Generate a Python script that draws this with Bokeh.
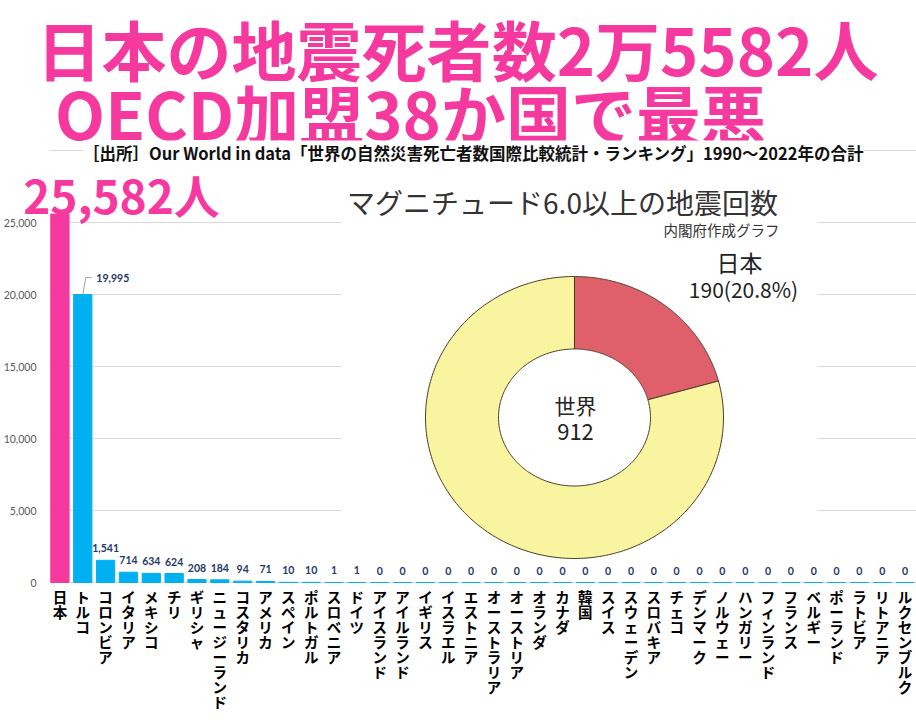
import numpy as np
from bokeh.plotting import figure
from bokeh.models import Range1d, Label, ColumnDataSource
from bokeh.core.properties import value
from bokeh.embed import file_html
from bokeh.resources import INLINE

# ---------------- data ----------------
countries = ["日本", "トルコ", "コロンビア", "イタリア", "メキシコ", "チリ", "ギリシャ",
             "ニュージーランド", "コスタリカ", "アメリカ", "スペイン", "ポルトガル", "スロベニア",
             "ドイツ", "アイスランド", "アイルランド", "イギリス", "イスラエル", "エストニア",
             "オーストラリア", "オーストリア", "オランダ", "カナダ", "韓国", "スイス", "スウェーデン",
             "スロバキア", "チェコ", "デンマーク", "ノルウェー", "ハンガリー", "フィンランド",
             "フランス", "ベルギー", "ポーランド", "ラトビア", "リトアニア", "ルクセンブルク"]
deaths = [25582, 19995, 1541, 714, 634, 624, 208, 184, 94, 71, 10, 10, 1,
          1, 0, 0, 0, 0, 0, 0, 0, 0, 0, 0, 0, 0,
          0, 0, 0, 0, 0, 0, 0, 0, 0, 0, 0, 0]
y_ticks = [0, 5000, 10000, 15000, 20000, 25000]
grid_ticks = [0, 5000, 10000, 15000, 20000, 25000, 30000]
quake_regions = ["日本", "世界"]
quake_counts = [190, 912]
japan_share_label = "190(20.8%)"
world_label = "912"

title_line1 = "日本の地震死者数2万5582人"
title_line2 = "OECD加盟38か国で最悪"
source_note = "［出所］Our World in data「世界の自然災害死亡者数国際比較統計・ランキング」1990～2022年の合計"
japan_total_label = "25,582人"
donut_title = "マグニチュード6.0以上の地震回数"
donut_credit = "内閣府作成グラフ"

# ---------------- layout helpers (image px -> data) ----------------
W, H = 916, 720
MARGIN = 0               # Bokeh's page template has no body margin
PLOT_L_IMG = 48          # left edge of the bar area, image px
PLOT_R_IMG = MARGIN + W  # right edge of the bar area, image px
N = len(countries)
cat_px = (PLOT_R_IMG - PLOT_L_IMG) / N
unit_px = 0.0144
zero_img = 582

def X(img_x):
    return (img_x - PLOT_L_IMG) / cat_px

def Y(img_y):
    return (zero_img - img_y) / unit_px

PINK = "#F5399E"
BLUE = "#00B0F0"
NAVY = "#1F3864"
JP_FONT = "Noto Sans CJK JP"

p = figure(width=W, height=H,
           x_range=Range1d(X(MARGIN), X(MARGIN + W)),
           y_range=Range1d(Y(MARGIN + H), Y(MARGIN)),
           x_axis_location=None, y_axis_location=None,
           output_backend="svg", toolbar_location=None,
           min_border_left=0, min_border_right=0, min_border_top=0, min_border_bottom=0)
p.outline_line_color = None
p.background_fill_color = "white"
p.xgrid.visible = False
p.ygrid.visible = False

xpos = np.arange(N) + 0.5  # category centres on the linear scale

# horizontal grid lines (value axis)
p.segment(x0=X(PLOT_L_IMG + 1), x1=X(PLOT_R_IMG), y0=grid_ticks, y1=grid_ticks,
          line_color="#D9D9D9", line_width=1)

# value-axis tick labels
p.text(x=X(36), y=y_ticks, text=[f"{t:,}" for t in y_ticks],
       text_align="right", text_baseline="middle", text_font=value("Lato"),
       text_font_size="10.5px", text_color="#595959")

# bars
bar_colors = [PINK] + [BLUE] * (N - 1)
p.vbar(x=xpos, top=deaths, width=0.8, color=bar_colors)

# white panel behind the pasted donut chart
p.quad(left=X(341), right=X(817), bottom=Y(562), top=Y(175),
       fill_color="white", line_color=None)

# donut (elliptical, as in the pasted image)
cx, cy = X(574), Y(417)
rxo, ryo = 149 / cat_px, 141 / unit_px
rxi, ryi = 76 / cat_px, 68.5 / unit_px
jp_frac = quake_counts[0] / quake_counts[1]
a0 = np.pi / 2
a1 = a0 - 2 * np.pi * jp_frac
a2 = a0 - 2 * np.pi
xs, ys = [], []
for s, e in [(a0, a1), (a1, a2)]:
    t = np.linspace(s, e, 240)
    xs.append(list(cx + rxo * np.cos(t)) + list(cx + rxi * np.cos(t[::-1])))
    ys.append(list(cy + ryo * np.sin(t)) + list(cy + ryi * np.sin(t[::-1])))
p.patches(xs, ys, fill_color=["#DF5F6B", "#F8F4A0"], line_color="#4a3b22", line_width=1)

# value labels above bars (except Japan)
vals = deaths[1:]
xo = [0] * len(vals)
yo = [-12] * len(vals)
xo[0], yo[0] = 30, -17
src = ColumnDataSource(dict(x=xpos[1:], y=vals, t=[f"{v:,}" for v in vals], xo=xo, yo=yo))
p.text(x="x", y="y", text="t", x_offset="xo", y_offset="yo", source=src,
       text_align="center", text_baseline="middle", text_font=value("Lato"),
       text_font_style="bold", text_font_size="10.5px", text_color=NAVY)

# leader line for Turkey label
tx = xpos[countries.index("トルコ")]
ty = deaths[countries.index("トルコ")]
p.line(x=[tx, tx + 3 / cat_px, tx + 9 / cat_px],
       y=[ty, ty + 17 / unit_px, ty + 17 / unit_px], line_color="#8c8c8c", line_width=0.8)

# vertical category labels
lab_src = ColumnDataSource(dict(x=xpos, y=[0] * N, t=["\n".join(c) for c in countries]))
p.text(x="x", y="y", text="t", source=lab_src, y_offset=3,
       text_align="center", text_baseline="top", text_font=value(JP_FONT),
       text_font_style="bold", text_font_size="14.5px", text_line_height=0.72,
       text_color="#000000")

# ---------------- annotations ----------------
def lab(text, ix, iy, size, color, style="normal", align="center", bg=None):
    kw = dict(x=X(ix), y=Y(iy), text=text, text_align=align, text_baseline="middle",
              text_font=JP_FONT, text_font_size=size, text_color=color, text_font_style=style)
    if bg:
        kw.update(background_fill_color=bg, background_fill_alpha=1.0)
    p.add_layout(Label(**kw))

lab(title_line1, 457, 47.5, "65px", PINK, "bold")
lab(title_line2, 410, 111, "65px", PINK, "bold")
lab(source_note, 473, 152, "16.5px", "#111111", "bold", bg="white")
lab(japan_total_label, 121, 193, "46px", PINK, "bold")
lab(donut_title, 562, 201, "28px", "#333333")
lab(donut_credit, 779, 229, "14.5px", "#333333", align="right")
lab(quake_regions[0], 739, 261, "23px", "#222222")
lab(japan_share_label, 743, 288, "21px", "#222222")
lab(quake_regions[1], 575, 404, "21px", "#222222")
lab(world_label, 575, 431, "22px", "#222222")

open("out.html", "w").write(file_html(p, INLINE))
